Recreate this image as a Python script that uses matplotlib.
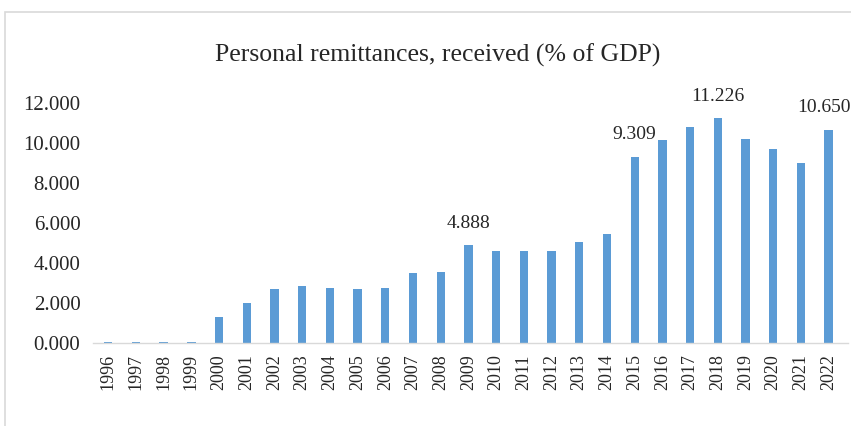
import matplotlib
matplotlib.use("Agg")
import matplotlib.pyplot as plt
from matplotlib.patches import Rectangle

years = [str(y) for y in range(1996, 2023)]
remit = [0.04, 0.05, 0.06, 0.05, 1.28, 2.02, 2.68, 2.86, 2.74, 2.68, 2.73, 3.52,
         3.57, 4.888, 4.62, 4.61, 4.61, 5.06, 5.45, 9.309, 10.15, 10.80,
         11.226, 10.22, 9.70, 9.02, 10.650]
labelled = ["2009", "2015", "2018", "2022"]

bar_color = "#5B9BD5"
txt = "#262626"
serif = ["Liberation Serif", "DejaVu Serif"]

fig = plt.figure(figsize=(8.51, 4.26), dpi=100)
ax = fig.add_axes([93 / 851, 1 - 343 / 426, (848 - 93) / 851, (343 - 103) / 426])

x = list(range(len(years)))
ax.bar(x, remit, width=0.3, color=bar_color, zorder=2)

ax.set_xlim(-0.55, 26.7)
ax.set_ylim(0, 12)
ax.set_yticks([0, 2, 4, 6, 8, 10, 12])
ax.set_yticklabels(["%.3f" % v for v in [0, 2, 4, 6, 8, 10, 12]],
                   family=serif, fontsize=15, color=txt)
ax.set_xticks(x)
ax.set_xticklabels(years, rotation=90, family=serif, fontsize=13, color=txt)
ax.tick_params(axis="y", length=0, pad=9)
ax.tick_params(axis="x", length=0, pad=8)

for s in ["top", "right", "left"]:
    ax.spines[s].set_visible(False)
ax.spines["bottom"].set_color("#d9d9d9")
ax.spines["bottom"].set_linewidth(1)

for i, yr in enumerate(years):
    if yr in labelled:
        dx = -3 if i == len(years) - 1 else 0
        ax.annotate("%.3f" % remit[i], (i, remit[i]), xytext=(dx, 16),
                    textcoords="offset points", ha="center", va="center",
                    family=serif, fontsize=14, color=txt, annotation_clip=False)

fig.text(438 / 851, 1 - 55 / 426, "Personal remittances, received (% of GDP)",
         ha="center", va="center", family=serif, fontsize=18.5, color=txt)

# outer chart border (light grey frame running off the image)
fig.add_artist(Rectangle((5 / 851, -0.1), 1.2, 1.1 - 12 / 426,
                         transform=fig.transFigure, fill=False,
                         edgecolor="#d9d9d9", linewidth=1.2))

fig.savefig("out.png", dpi=100)
